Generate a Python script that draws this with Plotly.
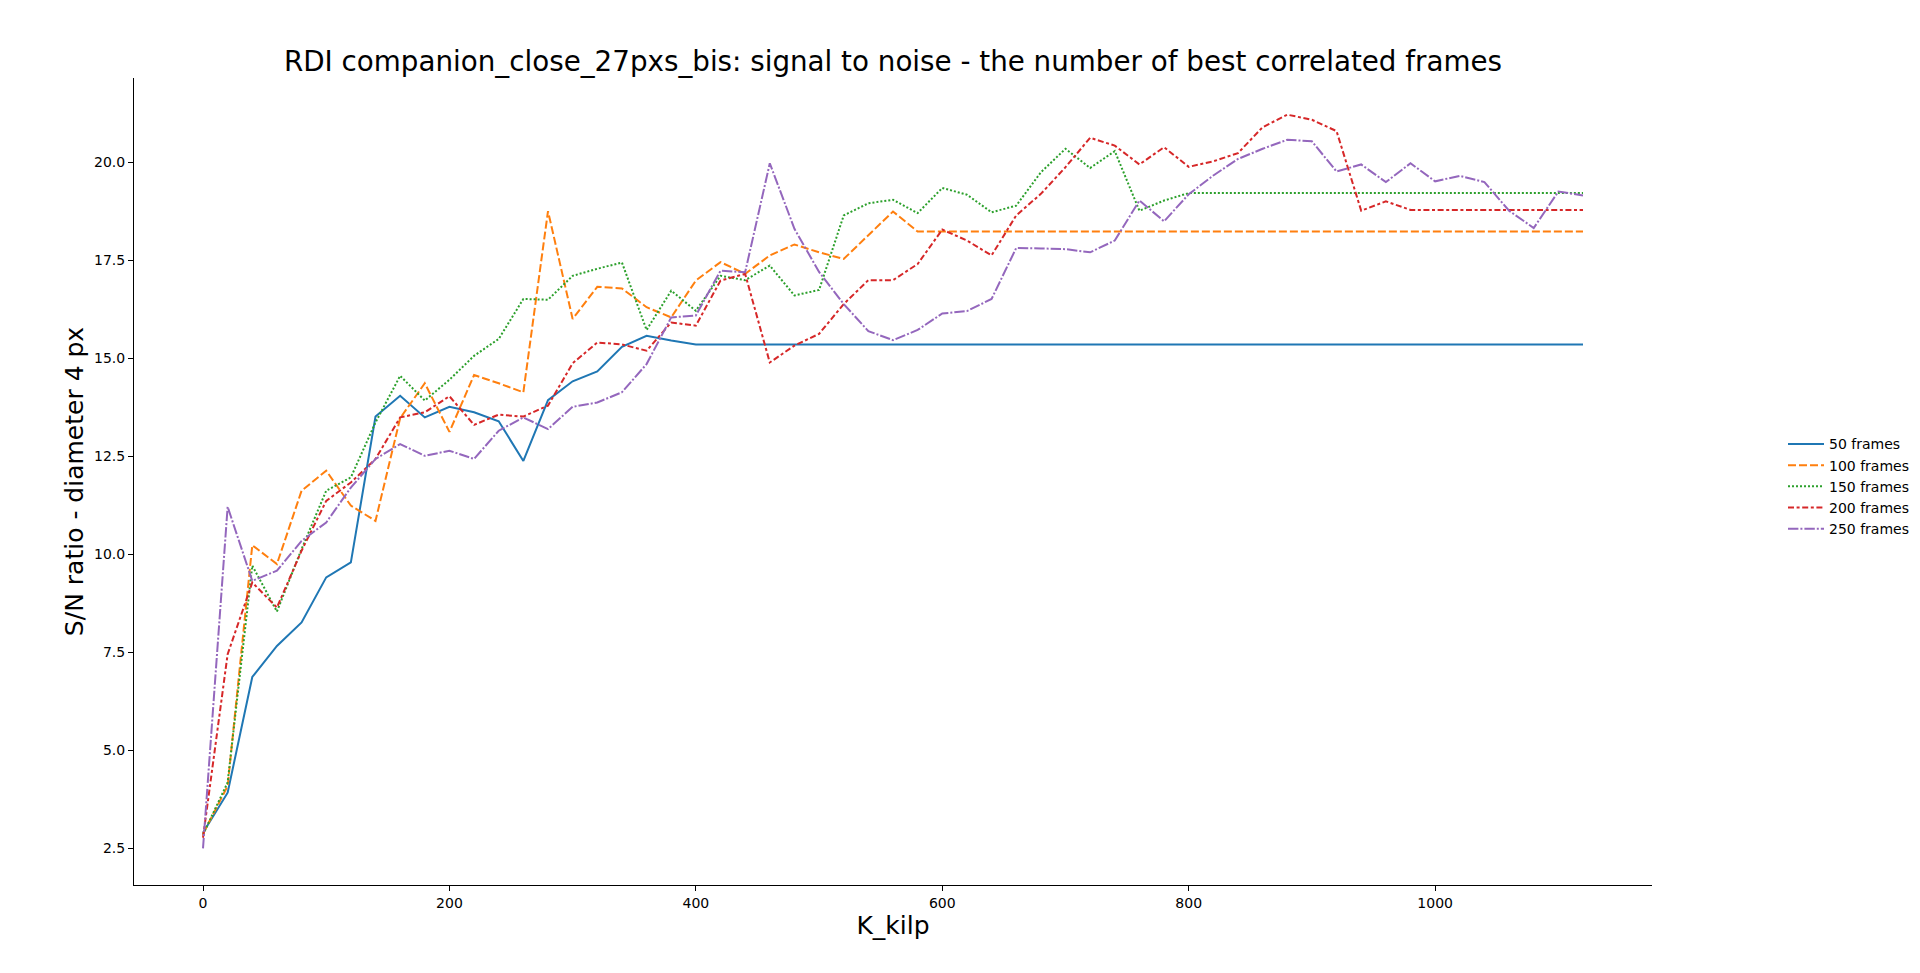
import plotly.graph_objects as go

# K_kilp values (x axis)
k_kilp = [0, 20, 40, 60, 80, 100, 120, 140, 160, 180,
          200, 220, 240, 260, 280, 300, 320, 340, 360, 380,
          400, 420, 440, 460, 480, 500, 520, 540, 560, 580,
          600, 620, 640, 660, 680, 700, 720, 740, 760, 780,
          800, 820, 840, 860, 880, 900, 920, 940, 960, 980,
          1000, 1020, 1040, 1060, 1080, 1100, 1120]

# S/N ratio per number of best correlated frames
sn_50 = [2.90, 3.92, 6.87, 7.66, 8.26, 9.41, 9.79, 13.51, 14.04, 13.49,
         13.76, 13.62, 13.39, 12.38, 13.93, 14.41, 14.66, 15.29, 15.57, 15.45,
         15.35, 15.35, 15.35, 15.35, 15.35, 15.35, 15.35, 15.35, 15.35, 15.35,
         15.35, 15.35, 15.35, 15.35, 15.35, 15.35, 15.35, 15.35, 15.35, 15.35,
         15.35, 15.35, 15.35, 15.35, 15.35, 15.35, 15.35, 15.35, 15.35, 15.35,
         15.35, 15.35, 15.35, 15.35, 15.35, 15.35, 15.35]
sn_100 = [2.87, 4.09, 10.23, 9.75, 11.62, 12.13, 11.24, 10.85, 13.47, 14.36,
          13.12, 14.57, 14.36, 14.13, 18.75, 16.00, 16.82, 16.78, 16.30, 16.04,
          16.98, 17.45, 17.15, 17.62, 17.90, 17.70, 17.53, 18.13, 18.74, 18.23,
          18.23, 18.23, 18.23, 18.23, 18.23, 18.23, 18.23, 18.23, 18.23, 18.23,
          18.23, 18.23, 18.23, 18.23, 18.23, 18.23, 18.23, 18.23, 18.23, 18.23,
          18.23, 18.23, 18.23, 18.23, 18.23, 18.23, 18.23]
sn_150 = [2.85, 4.18, 9.71, 8.54, 10.13, 11.62, 11.96, 13.36, 14.55, 13.92,
          14.45, 15.06, 15.49, 16.51, 16.49, 17.10, 17.28, 17.44, 15.72, 16.72,
          16.21, 17.10, 16.99, 17.36, 16.60, 16.74, 18.64, 18.95, 19.04, 18.70,
          19.34, 19.17, 18.72, 18.89, 19.74, 20.34, 19.85, 20.28, 18.76, 19.02,
          19.21, 19.21, 19.21, 19.21, 19.21, 19.21, 19.21, 19.21, 19.21, 19.21,
          19.21, 19.21, 19.21, 19.21, 19.21, 19.21, 19.21]
sn_200 = [2.77, 7.45, 9.28, 8.64, 10.09, 11.36, 11.83, 12.43, 13.49, 13.62,
          14.03, 13.30, 13.56, 13.51, 13.79, 14.87, 15.40, 15.35, 15.19, 15.91,
          15.83, 16.98, 17.15, 14.89, 15.32, 15.62, 16.38, 16.99, 16.99, 17.40,
          18.28, 18.00, 17.62, 18.64, 19.19, 19.87, 20.62, 20.42, 19.94, 20.38,
          19.88, 20.02, 20.23, 20.89, 21.21, 21.08, 20.79, 18.76, 19.00, 18.78,
          18.78, 18.78, 18.78, 18.78, 18.78, 18.78, 18.78]
sn_250 = [2.50, 11.21, 9.32, 9.58, 10.34, 10.81, 11.70, 12.43, 12.81, 12.51,
          12.64, 12.43, 13.15, 13.49, 13.19, 13.76, 13.87, 14.13, 14.85, 16.04,
          16.09, 17.23, 17.19, 19.97, 18.30, 17.20, 16.38, 15.69, 15.46, 15.72,
          16.14, 16.20, 16.51, 17.81, 17.80, 17.78, 17.70, 18.00, 19.02, 18.49,
          19.18, 19.66, 20.08, 20.34, 20.57, 20.53, 19.76, 19.94, 19.49, 19.97,
          19.51, 19.65, 19.49, 18.76, 18.32, 19.25, 19.15]

series_names = ["50 frames", "100 frames", "150 frames", "200 frames", "250 frames"]
series_values = [sn_50, sn_100, sn_150, sn_200, sn_250]

# matplotlib tab10 colours and seaborn-like dash patterns
colors = ["#1f77b4", "#ff7f0e", "#2ca02c", "#d62728", "#9467bd"]
dashes = ["solid", "8px,3px", "2px,2px", "6px,2.6px,3px,2.6px", "10.4px,2px,2px,2px"]

font = "DejaVu Sans"

fig = go.Figure()
for name, vals, col, dash in zip(series_names, series_values, colors, dashes):
    fig.add_trace(go.Scatter(
        x=k_kilp,
        y=vals,
        name=name,
        mode="lines",
        line=dict(color=col, width=2, dash=dash),
    ))

# page body has an 8px margin, so the figure starts at (8, 8);
# keep it wide enough that the legend never pushes the right margin
fig.update_layout(
    width=1920,
    height=957,
    paper_bgcolor="white",
    plot_bgcolor="white",
    margin=dict(l=126, r=276, t=70, b=80),
    font=dict(family=font, size=14, color="black"),
    title=dict(
        text="RDI companion_close_27pxs_bis: signal to noise - the number of best correlated frames",
        font=dict(family=font, size=27.75, color="black"),
        x=0.5, xref="paper", xanchor="center",
        y=1 - 53.5 / 957, yref="container", yanchor="middle",
    ),
    legend=dict(
        x=1.0863, xanchor="left",
        y=0.494, yanchor="middle",
        itemwidth=36,
        font=dict(family=font, size=14, color="black"),
        bgcolor="rgba(0,0,0,0)",
    ),
    showlegend=True,
)

fig.update_xaxes(
    range=[-56, 1176],
    tickvals=[0, 200, 400, 600, 800, 1000],
    showgrid=False, zeroline=False,
    showline=True, linecolor="black", linewidth=1,
    ticks="outside", ticklen=5, tickwidth=1, tickcolor="black",
    tickfont=dict(family=font, size=14, color="black"),
    title=dict(text="K_kilp", font=dict(family=font, size=25, color="black"), standoff=6),
)
fig.update_yaxes(
    range=[1.565, 22.145],
    tickvals=[2.5, 5.0, 7.5, 10.0, 12.5, 15.0, 17.5, 20.0],
    tickformat=".1f",
    showgrid=False, zeroline=False,
    showline=True, linecolor="black", linewidth=1,
    ticks="outside", ticklen=5, tickwidth=1, tickcolor="black",
    tickfont=dict(family=font, size=14, color="black"),
    title=dict(text="S/N ratio - diameter 4 px", font=dict(family=font, size=25, color="black"), standoff=3),
)

fig.write_html("out.html")
